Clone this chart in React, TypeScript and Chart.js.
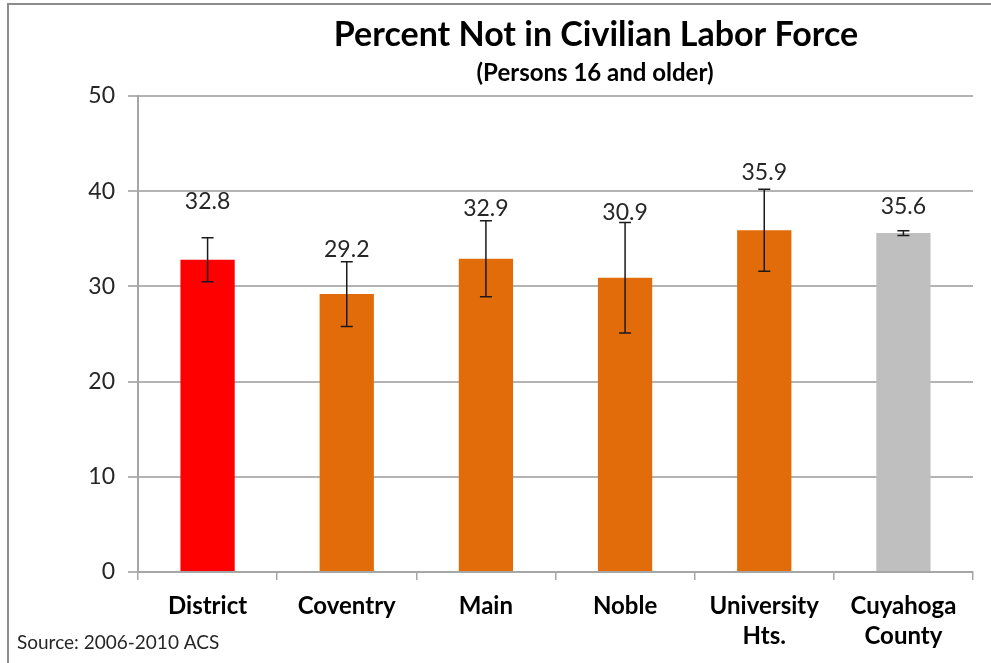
import React, { useEffect, useRef } from "react";
import { Chart, registerables } from "chart.js";

Chart.register(...registerables);

const categories: string[][] = [
  ["District"],
  ["Coventry"],
  ["Main"],
  ["Noble"],
  ["University", "Hts."],
  ["Cuyahoga", "County"],
];
const values = [32.8, 29.2, 32.9, 30.9, 35.9, 35.6];
const errors = [2.3, 3.4, 4.0, 5.8, 4.3, 0.25];
const barColors = ["#FF0000", "#E36C0A", "#E36C0A", "#E36C0A", "#E36C0A", "#BFBFBF"];
const yMax = 50;
const yStep = 10;
const titleText = "Percent Not in Civilian Labor Force";
const subtitleText = "(Persons 16 and older)";
const sourceText = "Source: 2006-2010 ACS";
// vertical pixel lift of each value label above its error-bar cap
const labelLift = [36, 12, 12, 10, 17, 24];

const FONT = "Lato, 'Open Sans', sans-serif";

const overlayPlugin = {
  id: "overlay",
  afterDatasetsDraw(chart: any) {
    const ctx = chart.ctx;
    const y = chart.scales.y;
    const meta = chart.getDatasetMeta(0);
    ctx.save();
    meta.data.forEach((bar: any, i: number) => {
      const x = bar.x;
      const top = y.getPixelForValue(values[i] + errors[i]);
      const bot = y.getPixelForValue(values[i] - errors[i]);
      ctx.strokeStyle = "#1a1a1a";
      ctx.lineWidth = 1.5;
      ctx.beginPath();
      ctx.moveTo(x, top);
      ctx.lineTo(x, bot);
      ctx.moveTo(x - 6, top);
      ctx.lineTo(x + 6, top);
      ctx.moveTo(x - 6, bot);
      ctx.lineTo(x + 6, bot);
      ctx.stroke();
      ctx.fillStyle = "#262626";
      ctx.font = `23px ${FONT}`;
      ctx.textAlign = "center";
      ctx.textBaseline = "middle";
      ctx.fillText(values[i].toFixed(1), x, top - labelLift[i]);
    });
    ctx.restore();
  },
  afterDraw(chart: any) {
    const ctx = chart.ctx;
    ctx.save();
    // frame
    ctx.strokeStyle = "#8c8c8c";
    ctx.lineWidth = 2;
    ctx.beginPath();
    ctx.moveTo(8, 663);
    ctx.lineTo(8, 4);
    ctx.lineTo(991, 4);
    ctx.stroke();
    // title
    ctx.fillStyle = "#000000";
    ctx.textAlign = "center";
    ctx.textBaseline = "middle";
    ctx.font = `bold 34px ${FONT}`;
    ctx.fillText(titleText, 596, 35);
    ctx.font = `bold 24px ${FONT}`;
    ctx.fillText(subtitleText, 595, 73);
    // source
    ctx.fillStyle = "#262626";
    ctx.textAlign = "left";
    ctx.font = `19px ${FONT}`;
    ctx.fillText(sourceText, 17, 643);
    ctx.restore();
  },
};

export default function App() {
  const ref = useRef<HTMLCanvasElement>(null);
  useEffect(() => {
    if (!ref.current) return;
    const chart = new Chart(ref.current, {
      type: "bar",
      data: {
        labels: categories,
        datasets: [
          {
            data: values,
            backgroundColor: barColors,
            borderWidth: 0,
            categoryPercentage: 1,
            barPercentage: 0.39,
          },
        ],
      },
      options: {
        responsive: false,
        animation: false,
        layout: { padding: { top: 96, right: 18, left: 0, bottom: 0 } },
        plugins: {
          legend: { display: false },
          tooltip: { enabled: false },
          title: { display: false },
        },
        scales: {
          x: {
            grid: {
              offset: true,
              drawOnChartArea: false,
              drawTicks: true,
              tickLength: 8,
              color: "#a6a6a6",
              lineWidth: 1.5,
            },
            border: { color: "#a6a6a6", width: 2 },
            ticks: {
              color: "#000000",
              padding: 11,
              maxRotation: 0,
              autoSkip: false,
              font: { family: FONT, size: 24, weight: "bold", lineHeight: 1.25 },
            },
            afterFit(scale: any) {
              scale.height = 91;
            },
          },
          y: {
            min: 0,
            max: yMax,
            ticks: {
              stepSize: yStep,
              color: "#262626",
              padding: 13,
              font: { family: FONT, size: 23 },
            },
            grid: {
              color: "#b3b3b3",
              lineWidth: 2,
              drawTicks: true,
              tickLength: 10,
            },
            border: { color: "#a6a6a6", width: 2 },
            afterFit(scale: any) {
              scale.width = 138;
            },
          },
        },
      },
      plugins: [overlayPlugin],
    });
    return () => chart.destroy();
  }, []);
  return (
    <div style={{ position: "fixed", left: 0, top: 0, width: 991, height: 663, background: "#fff" }}>
      <canvas ref={ref} width={991} height={663} style={{ display: "block" }} />
    </div>
  );
}
